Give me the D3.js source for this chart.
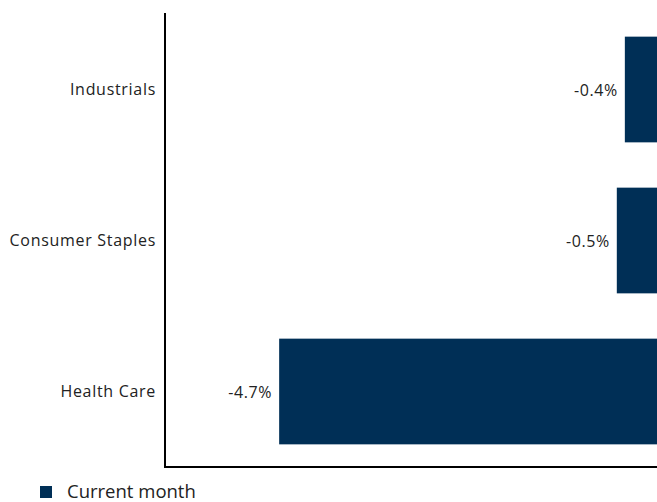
<!DOCTYPE html>
<html>
<head>
<meta charset="utf-8">
<script src="https://cdn.jsdelivr.net/npm/d3@7"></script>
<style>
  body { margin: 0; background: #fff; }
  text { font-family: "Open Sans", sans-serif; }
</style>
</head>
<body>
<div id="chart"></div>
<script>
// data
const categories = ["Industrials", "Consumer Staples", "Health Care"];
const values = [-0.4, -0.5, -4.7];
const seriesName = "Current month";

const width = 657, height = 502;
const margin = { top: 14, right: 0, bottom: 35, left: 165 };
const barColor = "#002f56";

const svg = d3.select("#chart").append("svg")
  .attr("width", width)
  .attr("height", height);

const x = d3.scaleLinear()
  .domain([-6.12, 0])
  .range([margin.left, width - margin.right]);

const y = d3.scaleBand()
  .domain(categories)
  .range([margin.top, height - margin.bottom])
  .paddingInner(0.3)
  .paddingOuter(0.15);

// bars
svg.selectAll(".bar")
  .data(categories)
  .enter().append("rect")
  .attr("class", "bar")
  .attr("x", (d, i) => x(values[i]))
  .attr("y", d => y(d))
  .attr("width", (d, i) => x(0) - x(values[i]))
  .attr("height", y.bandwidth())
  .attr("fill", barColor);

// value labels
svg.selectAll(".val")
  .data(categories)
  .enter().append("text")
  .attr("class", "val")
  .attr("x", (d, i) => x(values[i]) - 7)
  .attr("y", d => y(d) + y.bandwidth() / 2 + 1)
  .attr("dy", "0.35em")
  .attr("text-anchor", "end")
  .attr("font-size", 16)
  .attr("letter-spacing", 0.6)
  .attr("fill", "#222")
  .text((d, i) => values[i].toFixed(1) + "%");

// category labels
svg.selectAll(".cat")
  .data(categories)
  .enter().append("text")
  .attr("class", "cat")
  .attr("x", margin.left - 9)
  .attr("y", d => y(d) + y.bandwidth() / 2)
  .attr("dy", "0.35em")
  .attr("text-anchor", "end")
  .attr("font-size", 16)
  .attr("letter-spacing", 0.7)
  .attr("fill", "#222")
  .text(d => d);

// axis lines
svg.append("line")
  .attr("x1", margin.left).attr("x2", margin.left)
  .attr("y1", margin.top - 1).attr("y2", height - margin.bottom + 1)
  .attr("stroke", "#000").attr("stroke-width", 2);

svg.append("line")
  .attr("x1", margin.left - 1).attr("x2", width)
  .attr("y1", height - margin.bottom).attr("y2", height - margin.bottom)
  .attr("stroke", "#000").attr("stroke-width", 2);

// legend
const legend = svg.append("g").attr("transform", "translate(40,486)");
legend.append("rect")
  .attr("width", 12).attr("height", 12)
  .attr("fill", barColor);
legend.append("text")
  .attr("x", 27).attr("y", 11.5)
  .attr("font-size", 18.5)
  .attr("fill", "#222")
  .text(seriesName);
</script>
</body>
</html>
